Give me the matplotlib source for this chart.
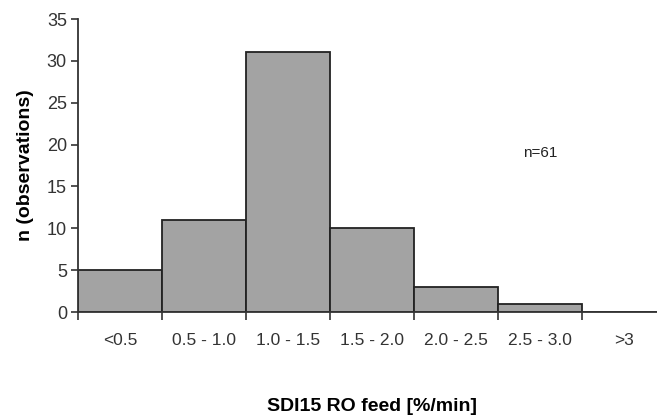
import matplotlib.pyplot as plt
import numpy as np

plt.rcParams['font.family'] = ['Liberation Sans', 'DejaVu Sans']

categories = ["<0.5", "0.5 - 1.0", "1.0 - 1.5", "1.5 - 2.0", "2.0 - 2.5", "2.5 - 3.0", ">3"]
counts = [5, 11, 31, 10, 3, 1, 0]
n_total = 61

fig = plt.figure(figsize=(6.57, 4.19), dpi=100)
ax = fig.add_axes([78/657, 107/419, 588/657, 293/419])

x = np.arange(len(categories))
ax.bar(x + 0.5, counts, width=1.0, color="#a3a3a3", edgecolor="#222222", linewidth=1.3)

ax.set_xlim(0, len(categories))
ax.set_ylim(0, 35)
ax.set_yticks(range(0, 36, 5))
ax.set_xticks(np.arange(0, len(categories) + 1))
ax.set_xticklabels([])
ax.set_xticks(x + 0.5, minor=True)
ax.set_xticklabels(categories, minor=True)
ax.tick_params(axis='x', which='minor', length=0, pad=15, labelsize=12.5, labelcolor="#333333")
ax.tick_params(axis='x', which='major', length=6, width=1.2, color="#333333")
ax.tick_params(axis='y', length=5, width=1.2, color="#333333", labelsize=13, labelcolor="#333333", pad=3)

for s in ["top", "right"]:
    ax.spines[s].set_visible(False)
for s in ["left", "bottom"]:
    ax.spines[s].set_color("#333333")
    ax.spines[s].set_linewidth(1.3)

ax.set_ylabel("n (observations)", fontsize=14, fontweight="bold", labelpad=9)
ax.set_xlabel("SDI15 RO feed [%/min]", fontsize=14, fontweight="bold", labelpad=36)
ax.text(5.5, 19, f"n={n_total}", fontsize=11, ha="center", va="center", color="#222222")

fig.savefig("out.png", dpi=100)
